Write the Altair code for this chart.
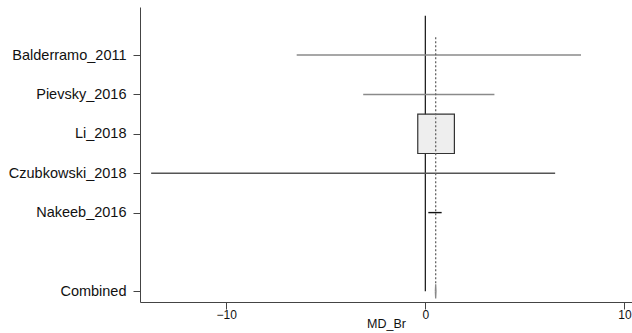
import altair as alt
import pandas as pd

# ---- data ----
studies = ["Balderramo_2011", "Pievsky_2016", "Li_2018", "Czubkowski_2018", "Nakeeb_2016", "Combined"]
rows = [1, 2, 3, 4, 5, 7]
ci_lower = [-6.46, -3.12, 0.10, -13.77, 0.15, 0.505]
ci_upper = [7.82, 3.47, 1.00, 6.52, 0.82, 0.535]
estimate = [0.68, 0.18, 0.54, -3.62, 0.49, 0.52]
line_tone = ["#8a8a8a", "#8a8a8a", "#8a8a8a", "#555555", "#111111", "#111111"]

# Li_2018 weight box (data units)
box_x = [-0.38, 1.46]
box_y = [2.5, 3.5]

FONT = "Liberation Sans"

ci_df = pd.DataFrame({
    "study": studies[:5], "row": rows[:5],
    "lo": ci_lower[:5], "hi": ci_upper[:5], "tone": line_tone[:5],
})
box_df = pd.DataFrame({"x": [box_x[0]], "x2": [box_x[1]], "y": [box_y[0]], "y2": [box_y[1]]})

c_est, c_lo, c_hi, c_row = estimate[5], ci_lower[5], ci_upper[5], rows[5]
diamond_df = pd.DataFrame({
    "x": [c_lo, c_est, c_hi, c_est, c_lo],
    "y": [c_row, c_row - 0.18, c_row, c_row + 0.18, c_row],
    "o": [0, 1, 2, 3, 4],
})
zero_df = pd.DataFrame({"x": [0], "y": [0], "y2": [c_row]})
pooled_df = pd.DataFrame({"x": [c_est], "y": [0.55], "y2": [c_row - 0.18]})

label_expr = " : ".join(
    f"datum.value == {r} ? '{s}'" for r, s in zip(rows, studies)
) + " : ''"

xscale = alt.Scale(domain=[-14.33, 10.38], nice=False, zero=False)
yscale = alt.Scale(domain=[-0.22, 7.27], reverse=True, nice=False, zero=False)

xaxis = alt.Axis(values=[-10, 0, 10], title="MD_Br", grid=False, domainColor="#444444",
                 tickColor="#444444", tickSize=7, labelPadding=0, labelFontSize=12,
                 labelFont=FONT, labelColor="#111111", titleFont=FONT, titleFontSize=12.5,
                 titleFontWeight="normal", titleColor="#111111", titlePadding=-3)
yaxis = alt.Axis(values=rows, labelExpr=label_expr, title=None, grid=False,
                 domainColor="#444444", tickColor="#444444", tickSize=7, labelPadding=7,
                 labelFontSize=14.5, labelFont=FONT, labelColor="#111111")

zero_line = alt.Chart(zero_df).mark_rule(color="#111111", strokeWidth=1.2).encode(
    x=alt.X("x:Q", scale=xscale, axis=xaxis),
    y=alt.Y("y:Q", scale=yscale, axis=yaxis),
    y2="y2:Q",
)

ci_lines = alt.Chart(ci_df).mark_rule(strokeWidth=1.4).encode(
    x=alt.X("lo:Q", scale=xscale),
    x2="hi:Q",
    y=alt.Y("row:Q", scale=yscale),
    color=alt.Color("tone:N", scale=None),
)

box = alt.Chart(box_df).mark_rect(fill="#eeeeee", stroke="#333333", strokeWidth=1.2).encode(
    x=alt.X("x:Q", scale=xscale), x2="x2:Q",
    y=alt.Y("y:Q", scale=yscale), y2="y2:Q",
)

pooled = alt.Chart(pooled_df).mark_rule(color="#666666", strokeWidth=1.3, strokeDash=[2, 2]).encode(
    x=alt.X("x:Q", scale=xscale),
    y=alt.Y("y:Q", scale=yscale), y2="y2:Q",
)

diamond = alt.Chart(diamond_df).mark_line(color="#888888", strokeWidth=1.3).encode(
    x=alt.X("x:Q", scale=xscale),
    y=alt.Y("y:Q", scale=yscale),
    order="o:Q",
)

chart = alt.layer(zero_line, ci_lines, box, pooled, diamond).properties(
    width=492, height=295,
    autosize=alt.AutoSizeParams(type="none"),
    padding={"left": 140, "top": 7, "right": 0, "bottom": 31},
    background="white",
).configure_view(stroke=None)

chart.save("out.html", embed_options={"renderer": "svg", "actions": False})
